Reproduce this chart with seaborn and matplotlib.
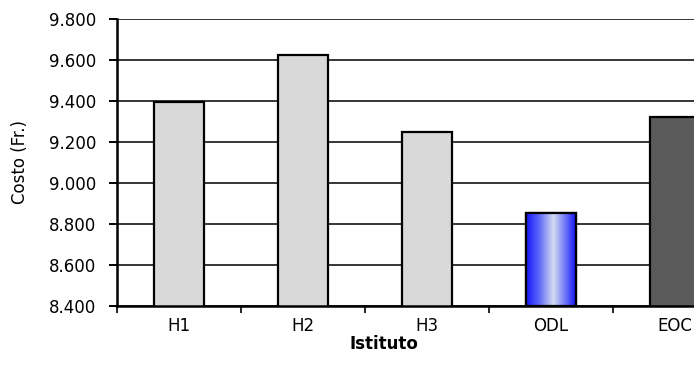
import numpy as np
import pandas as pd
import matplotlib
matplotlib.use("Agg")
import matplotlib.pyplot as plt
from matplotlib.colors import LinearSegmentedColormap
from matplotlib.ticker import FixedLocator, FuncFormatter
import seaborn as sns

# Cost per institute (Fr.)
istituti = ["H1", "H2", "H3", "ODL", "EOC"]
costi = [9395, 9625, 9250, 8855, 9320]
colori = ["#D9D9D9", "#D9D9D9", "#D9D9D9", "#3333FF", "#5A5A5A"]
y_ticks = [8400, 8600, 8800, 9000, 9200, 9400, 9600, 9800]
y_min, y_max = 8400, 9800

sns.set_theme(style="white")
plt.rcParams["font.family"] = ["DejaVu Sans"]

df = pd.DataFrame({"Istituto": istituti, "Costo": costi})

fig = plt.figure(figsize=(6.94, 3.69), dpi=100)
ax = fig.add_axes([117 / 694, 1 - 306 / 369, 620 / 694, 287 / 369])

sns.barplot(data=df, x="Istituto", y="Costo", hue="Istituto", palette=colori,
            width=0.4, edgecolor="black", linewidth=1.6, legend=False,
            ax=ax, zorder=3)

ax.set_ylim(y_min, y_max)
ax.set_xlim(-0.5, 4.5)
ax.yaxis.set_major_locator(FixedLocator(y_ticks))
ax.yaxis.set_major_formatter(FuncFormatter(lambda v, p: f"{v:,.0f}".replace(",", ".")))
ax.grid(axis="y", color="black", linewidth=1.1, zorder=0)
ax.set_axisbelow(True)

# Horizontal shading on the ODL bar
odl = ax.patches[istituti.index("ODL")]
x0, w = odl.get_x(), odl.get_width()
top = odl.get_y() + odl.get_height()
grad = LinearSegmentedColormap.from_list(
    "odl", [(0.0, "#1414F5"), (0.25, "#5A64F8"), (0.55, "#D4DCF2"),
            (0.8, "#6A72F8"), (1.0, "#1414F5")])
ramp = np.linspace(0, 1, 256).reshape(1, -1)
ax.imshow(ramp, cmap=grad, aspect="auto", extent=[x0, x0 + w, y_min, top],
          zorder=3.5, interpolation="bilinear")
ax.add_patch(plt.Rectangle((x0, y_min), w, top - y_min, fill=False,
                           edgecolor="black", linewidth=1.6, zorder=4))
ax.set_xlim(-0.5, 4.5)
ax.set_ylim(y_min, y_max)

for side in ["left", "bottom"]:
    ax.spines[side].set_color("black")
    ax.spines[side].set_linewidth(1.8)
    ax.spines[side].set_zorder(5)
ax.spines["top"].set_visible(False)
ax.spines["right"].set_visible(False)

ax.tick_params(axis="y", which="major", left=True, length=6, width=1.4,
               color="black", labelsize=12, pad=9, labelcolor="black")
ax.tick_params(axis="x", which="major", bottom=False, labelsize=12, pad=2,
               labelcolor="black")
ax.xaxis.set_minor_locator(FixedLocator([-0.5, 0.5, 1.5, 2.5, 3.5]))
ax.tick_params(axis="x", which="minor", bottom=True, length=5, width=1.2,
               color="black")

ax.set_ylabel("Costo (Fr.)", fontsize=12, color="black")
ax.yaxis.set_label_coords(-(117 - 29) / 620, 0.5)
ax.set_xlabel("Istituto", fontsize=12, fontweight="bold", color="black")
ax.xaxis.set_label_coords((384 - 117) / 620, -0.10)

fig.savefig("out.png", dpi=100)
